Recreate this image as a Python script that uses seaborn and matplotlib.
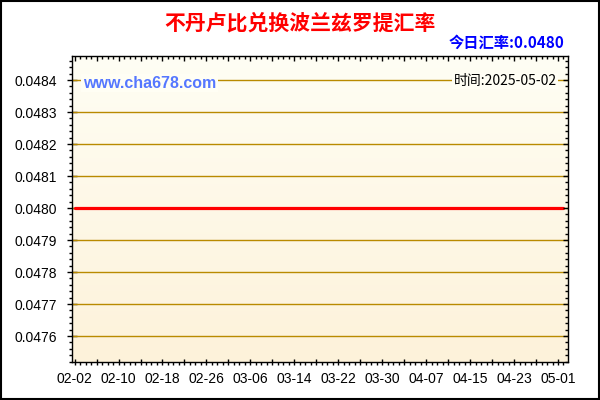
import numpy as np
import pandas as pd
import matplotlib
matplotlib.use("Agg")
import matplotlib.pyplot as plt
import matplotlib.dates as mdates
from matplotlib.ticker import FixedLocator, FuncFormatter, MultipleLocator
from matplotlib.colors import LinearSegmentedColormap
from matplotlib.patches import Rectangle
import seaborn as sns

# ---------------- data ----------------
title_text = "不丹卢比兑换波兰兹罗提汇率"
today_text = "今日汇率:0.0480"
time_text = "时间:2025-05-02"
site_text = "www.cha678.com"

dates = pd.date_range("2025-02-02", "2025-05-02", freq="D")
rates = [
    0.0480, 0.0480, 0.0480, 0.0480, 0.0480, 0.0480, 0.0480, 0.0480, 0.0480, 0.0480,
    0.0480, 0.0480, 0.0480, 0.0480, 0.0480, 0.0480, 0.0480, 0.0480, 0.0480, 0.0480,
    0.0480, 0.0480, 0.0480, 0.0480, 0.0480, 0.0480, 0.0480, 0.0480, 0.0480, 0.0480,
    0.0480, 0.0480, 0.0480, 0.0480, 0.0480, 0.0480, 0.0480, 0.0480, 0.0480, 0.0480,
    0.0480, 0.0480, 0.0480, 0.0480, 0.0480, 0.0480, 0.0480, 0.0480, 0.0480, 0.0480,
    0.0480, 0.0480, 0.0480, 0.0480, 0.0480, 0.0480, 0.0480, 0.0480, 0.0480, 0.0480,
    0.0480, 0.0480, 0.0480, 0.0480, 0.0480, 0.0480, 0.0480, 0.0480, 0.0480, 0.0480,
    0.0480, 0.0480, 0.0480, 0.0480, 0.0480, 0.0480, 0.0480, 0.0480, 0.0480, 0.0480,
    0.0480, 0.0480, 0.0480, 0.0480, 0.0480, 0.0480, 0.0480, 0.0480, 0.0480, 0.0480,
]
y_ticks = [0.0476, 0.0477, 0.0478, 0.0479, 0.0480, 0.0481, 0.0482, 0.0483, 0.0484]
y_tick_labels = ["0.0476", "0.0477", "0.0478", "0.0479", "0.0480",
                 "0.0481", "0.0482", "0.0483", "0.0484"]

df = pd.DataFrame({"date": dates[:len(rates)], "rate": rates})

# ---------------- style ----------------
sns.set_style("white")
plt.rcParams["font.family"] = ["Liberation Sans", "Noto Sans CJK SC", "DejaVu Sans"]

cjk = ["Noto Sans CJK SC", "DejaVu Sans"]
grid_color = "#B98A00"

fig = plt.figure(figsize=(6, 4), dpi=100)
fig.patch.set_facecolor("white")
L, R, T, B = 72, 568, 56, 362
pos = [L / 600, 1 - B / 400, (R - L) / 600, (B - T) / 400]
ax = fig.add_axes(pos)

# gradient background
cmap = LinearSegmentedColormap.from_list("bg", ["#FFFEF4", "#FDF2DA"])
grad = np.linspace(0, 1, 256).reshape(-1, 1)
ax.imshow(grad, cmap=cmap, aspect="auto", extent=[0, 1, 0, 1],
          transform=ax.transAxes, zorder=0, interpolation="bilinear")

sns.lineplot(data=df, x="date", y="rate", ax=ax, color="#FF0000",
             linewidth=2.3, zorder=3, legend=False)

x0 = mdates.date2num(pd.Timestamp("2025-02-02")) - 0.47
x1 = mdates.date2num(pd.Timestamp("2025-05-01")) + 1.82
ax.set_xlim(x0, x1)
ax.set_ylim(0.047519, 0.048475)

# y ticks
ax.yaxis.set_major_locator(FixedLocator(y_ticks))
ax.set_yticklabels(y_tick_labels)
ax.yaxis.set_minor_locator(MultipleLocator(0.00002))
for yv in y_ticks:
    ax.axhline(yv, color=grid_color, linewidth=1.0, zorder=1)

# x ticks
start = mdates.date2num(pd.Timestamp("2025-02-02"))
major_x = [start + 4 * k for k in range(23)]
minor_x = [start + d for d in range(0, 91)]
ax.xaxis.set_major_locator(FixedLocator(major_x))
ax.xaxis.set_minor_locator(FixedLocator(minor_x))
ax.xaxis.set_major_formatter(FuncFormatter(
    lambda v, p: mdates.num2date(v).strftime("%m-%d") if (round(v - start) % 8 == 0) else ""))

ax.set_xlabel("")
ax.set_ylabel("")

ax.tick_params(axis="both", which="both", bottom=True, left=True, top=False, right=False,
               colors="black", labelcolor="black", labelsize=10)
ax.tick_params(axis="y", which="major", direction="inout", length=7.5, width=1, pad=7)
ax.tick_params(axis="y", which="minor", direction="out", length=2.5, width=1)
ax.tick_params(axis="x", which="major", direction="inout", length=5, width=1, pad=5)
ax.tick_params(axis="x", which="minor", direction="out", length=2.3, width=1)

for s in ax.spines.values():
    s.set_color("black")
    s.set_linewidth(1.0)
    s.set_visible(True)

# overlay axes for inward ticks on top and right
ax2 = fig.add_axes(pos, sharex=ax, sharey=ax, facecolor="none")
ax2.patch.set_alpha(0)
for s in ax2.spines.values():
    s.set_visible(False)
ax2.tick_params(axis="both", which="both", bottom=False, left=False, top=True, right=True,
                labelbottom=False, labelleft=False, labeltop=False, labelright=False,
                direction="in", colors="black")
ax2.tick_params(which="major", length=3.5, width=1)
ax2.tick_params(which="minor", length=2, width=1)
ax2.set_xlim(x0, x1)
ax2.set_ylim(0.047519, 0.048475)

# texts
fig.text(300 / 600, 1 - 23 / 400, title_text, color="#FF0000", fontsize=15,
         fontweight="bold", ha="center", va="center", family=cjk)
fig.text(564 / 600, 1 - 43 / 400, today_text, color="#0000FF", fontsize=11,
         fontweight="bold", ha="right", va="center", family=cjk)
ax.text(83 / 600, 1 - 83 / 400, site_text, transform=fig.transFigure, color="#5577FF",
        fontsize=11.5, fontweight="bold", ha="left", va="center",
        family=["Liberation Sans", "DejaVu Sans"], zorder=5,
        bbox=dict(boxstyle="square,pad=0.1", facecolor="#FFFEF4", edgecolor="none"))
ax.text(557 / 600, 1 - 81 / 400, time_text, transform=fig.transFigure, color="black",
        fontsize=10, ha="right", va="center", family=cjk, zorder=5,
        bbox=dict(boxstyle="square,pad=0.1", facecolor="#FFFEF4", edgecolor="none"))

# figure border
fig.patches.append(Rectangle((0.001, 0.0015), 0.997, 0.996, transform=fig.transFigure,
                             fill=False, edgecolor="black", linewidth=1.5))

fig.savefig("out.png", dpi=100)
